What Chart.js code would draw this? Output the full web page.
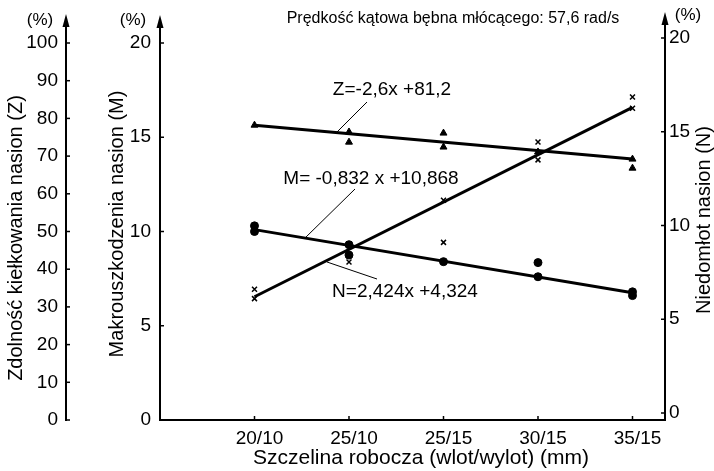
<!DOCTYPE html>
<html>
<head>
<meta charset="utf-8">
<script src="https://cdn.jsdelivr.net/npm/chart.js@4"></script>
<style>
  html, body { margin: 0; padding: 0; background: #fff; }
  canvas { display: block; }
</style>
</head>
<body>
<canvas id="chart" width="714" height="471"></canvas>
<script>
const categories = ['20/10', '25/10', '25/15', '30/15', '35/15'];
const catIndex = [0, 1, 2, 3, 4];
const fitX = [0, 4];

// Zdolnosc kielkowania Z (%) - triangles
const zX = [0, 1, 1, 2, 2, 3, 4, 4];
const zY = [78.2, 76.4, 73.7, 76.1, 72.4, 71.1, 69.2, 66.8];
const zFitY = [78.2, 69.2];

// Makrouszkodzenia M (%) - dots
const mX = [0, 0, 1, 1, 2, 3, 3, 4, 4];
const mY = [10.3, 10.0, 9.3, 8.75, 8.4, 8.35, 7.6, 6.8, 6.6];
const mFitY = [10.1, 6.75];

// Niedomlot N (%) - crosses
const nX = [0, 0, 1, 2, 2, 3, 3, 4, 4];
const nY = [6.6, 6.1, 8.05, 11.35, 9.1, 14.45, 13.5, 16.85, 16.25];
const nFitY = [6.2, 16.3];

const zTicks = [0, 10, 20, 30, 40, 50, 60, 70, 80, 90, 100];
const mTicks = [0, 5, 10, 15, 20];
const nTicks = [0, 5, 10, 15, 20];

const FONT = '"Liberation Sans", Arial, sans-serif';
Chart.defaults.font.family = FONT;
Chart.defaults.color = '#000';

const pts = (xs, ys) => xs.map((x, i) => ({ x: x, y: ys[i] }));

function fitLine(ys, axis) {
  return {
    type: 'line', data: pts(fitX, ys), yAxisID: axis,
    borderColor: '#000', borderWidth: 3, pointRadius: 0, showLine: true
  };
}
function markers(xs, ys, axis, style, r) {
  return {
    type: 'scatter', data: pts(xs, ys), yAxisID: axis,
    pointStyle: style, pointRadius: r, backgroundColor: '#000',
    borderColor: '#000', borderWidth: style === 'crossRot' ? 1.5 : 1
  };
}

function yScale(pos, weight, min, max, ticks, pad, width) {
  return {
    type: 'linear', position: pos, weight: weight, min: min, max: max,
    afterBuildTicks: s => { s.ticks = ticks.map(v => ({ value: v })); },
    afterFit: s => { s.width = width; },
    grid: { display: false, drawTicks: false },
    border: { display: true, color: '#000', width: 2 },
    ticks: { font: { size: 19 }, color: '#000', padding: pad, autoSkip: false }
  };
}

const decorations = {
  id: 'decorations',
  afterDraw(chart) {
    const { ctx, chartArea: ca, scales } = chart;
    const { x, z, m, n } = scales;
    ctx.save();
    ctx.strokeStyle = '#000';
    ctx.fillStyle = '#000';
    const seg = (x1, y1, x2, y2, w) => {
      ctx.lineWidth = w;
      ctx.beginPath(); ctx.moveTo(x1, y1); ctx.lineTo(x2, y2); ctx.stroke();
    };
    const text = (s, px, py, size, rot) => {
      ctx.save();
      ctx.translate(px, py);
      if (rot) ctx.rotate(rot);
      ctx.font = size + 'px ' + FONT;
      ctx.textAlign = 'center';
      ctx.textBaseline = 'middle';
      ctx.fillText(s, 0, 0);
      ctx.restore();
    };
    const arrow = (ax, tipY) => {
      seg(ax, ca.top, ax, tipY + 8, 2);
      ctx.beginPath();
      ctx.moveTo(ax, tipY); ctx.lineTo(ax - 3.5, tipY + 13); ctx.lineTo(ax + 3.5, tipY + 13);
      ctx.closePath(); ctx.fill();
    };

    // inward tick marks
    zTicks.forEach(v => { const py = z.getPixelForValue(v); seg(z.right, py, z.right + 4, py, 1.5); });
    mTicks.forEach(v => { const py = m.getPixelForValue(v); seg(m.right, py, m.right + 4, py, 1.5); });
    nTicks.forEach(v => { const py = n.getPixelForValue(v); seg(n.left, py, n.left - 4, py, 1.5); });
    catIndex.forEach(v => { const px = x.getPixelForValue(v); seg(px, ca.bottom, px, ca.bottom - 4, 1.5); });

    // axis arrows
    arrow(z.right, 14);
    arrow(m.right, 15);
    arrow(n.left, 12);

    // units
    text('(%)', 40, 20, 17);
    text('(%)', 133, 20, 17);
    text('(%)', 688, 15, 17);

    // heading
    text('Prędkość kątowa bębna młócącego: 57,6 rad/s', 453, 19, 16);

    // axis titles
    text('Zdolność kiełkowania nasion (Z)', 16, 238, 20, -Math.PI / 2);
    text('Makrouszkodzenia nasion (M)', 117, 224, 20, -Math.PI / 2);
    text('Niedomłot nasion (N)', 704, 220, 20, -Math.PI / 2);
    text('Szczelina robocza (wlot/wylot) (mm)', 421, 458, 21);

    // regression equations with leader lines
    text('Z=-2,6x +81,2', 392, 90, 19);
    seg(367, 102, 336, 133, 1);
    text('M= -0,832 x +10,868', 371, 179, 19);
    seg(355, 189, 304, 239, 1);
    text('N=2,424x +4,324', 405, 292, 19);
    seg(327, 262, 377, 279, 1);

    ctx.restore();
  }
};

new Chart(document.getElementById('chart'), {
  type: 'scatter',
  data: {
    datasets: [
      fitLine(zFitY, 'z'),
      markers(zX, zY, 'z', 'triangle', 4),
      fitLine(mFitY, 'm'),
      markers(mX, mY, 'm', 'circle', 4),
      fitLine(nFitY, 'n'),
      markers(nX, nY, 'n', 'crossRot', 3.5)
    ]
  },
  options: {
    responsive: false,
    animation: false,
    devicePixelRatio: 1,
    layout: { padding: { top: 43, left: 0, right: 0, bottom: 0 } },
    plugins: { legend: { display: false }, tooltip: { enabled: false } },
    scales: {
      x: {
        type: 'linear', position: 'bottom', min: -1, max: 4.344,
        afterBuildTicks: s => { s.ticks = catIndex.map(v => ({ value: v })); },
        afterFit: s => { s.height = 51; },
        grid: { display: false, drawTicks: false },
        border: { display: true, color: '#000', width: 2 },
        ticks: {
          font: { size: 19 }, color: '#000', padding: 7, labelOffset: 5, maxRotation: 0,
          autoSkip: false, callback: v => categories[v]
        }
      },
      z: yScale('left', 1, 0, 100, zTicks, 8, 66),
      m: yScale('left', 0, 0, 20, mTicks, 9, 94),
      n: yScale('right', 0, -0.373, 19.733, nTicks, 4, 49)
    }
  },
  plugins: [decorations]
});
</script>
</body>
</html>
